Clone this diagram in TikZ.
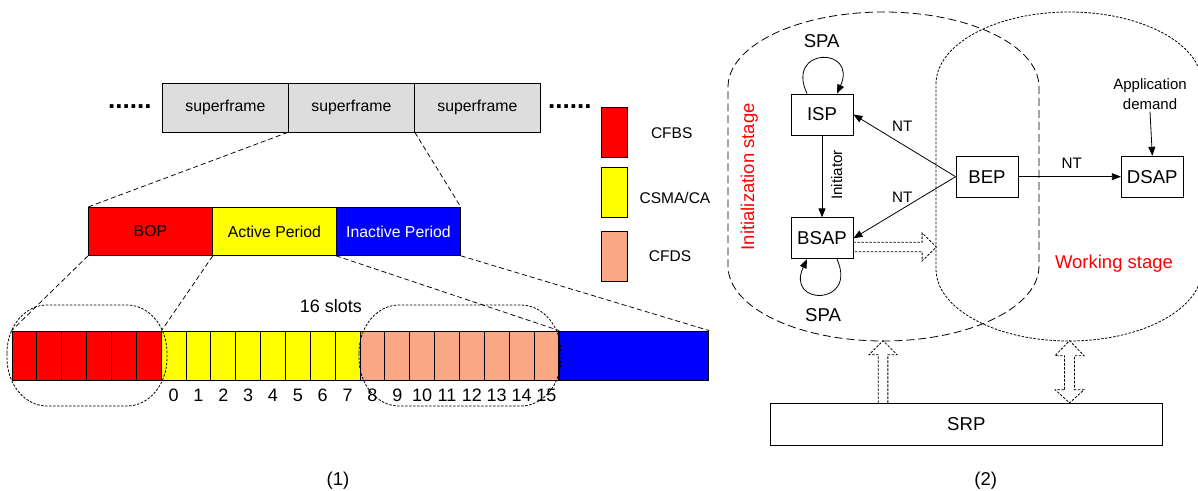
\documentclass[tikz,border=0pt]{standalone}
\usepackage{fontspec}
\setmainfont{Liberation Sans}
\usetikzlibrary{arrows.meta,calc}
\definecolor{sfgray}{RGB}{221,221,221}
\definecolor{salmonc}{RGB}{248,168,132}
\definecolor{pblue}{RGB}{0,0,255}
\definecolor{pred}{RGB}{255,0,0}
\definecolor{pyellow}{RGB}{255,255,0}
\newcommand{\myfs}[1]{\fontsize{#1}{#1}\selectfont}
% rounded box with elliptical corners: style, x1, y1(top), x2, y2(bottom), rx, ry
\newcommand{\roundbox}[7]{%
 \draw[#1] ({#2},{#3+#7}) .. controls ({#2},{#3+0.4477*#7}) and ({#2+0.4477*#6},{#3}) .. ({#2+#6},{#3})
 -- ({#4-#6},{#3}) .. controls ({#4-0.4477*#6},{#3}) and ({#4},{#3+0.4477*#7}) .. ({#4},{#3+#7})
 -- ({#4},{#5-#7}) .. controls ({#4},{#5-0.4477*#7}) and ({#4-0.4477*#6},{#5}) .. ({#4-#6},{#5})
 -- ({#2+#6},{#5}) .. controls ({#2+0.4477*#6},{#5}) and ({#2},{#5-0.4477*#7}) .. ({#2},{#5-#7}) -- cycle;}
\tikzset{
 box/.style={draw=black, line width=0.8pt, inner sep=0pt},
 sf/.style={box, fill=sfgray, minimum width=126pt, minimum height=48.5pt, anchor=north west, font=\myfs{15.8}},
 per/.style={box, minimum width=124pt, minimum height=48pt, anchor=north west, font=\myfs{15.8}},
 slot/.style={box, minimum width=24.857pt, minimum height=49pt},
 leg/.style={box, minimum width=26pt, minimum height=50pt, anchor=north west},
 lab/.style={inner sep=0pt, font=\myfs{15.5}},
 num/.style={inner sep=0pt, font=\myfs{18}},
 big/.style={inner sep=0pt, font=\myfs{18.6}},
 small/.style={inner sep=0pt, font=\myfs{15.2}},
 proc/.style={box, minimum width=62pt, minimum height=41pt, font=\myfs{18.6}},
 zoomline/.style={line width=0.75pt, dash pattern=on 5pt off 3pt},
 fine/.style={line width=0.8pt, dash pattern=on 2.5pt off 1.5pt},
 stagedash/.style={line width=0.8pt, dash pattern=on 8pt off 4pt},
 arr/.style={line width=0.8pt, -{Triangle[length=9pt,width=7pt]}},
 hollow/.style={line width=0.8pt, dash pattern=on 2.5pt off 1.5pt},
 stage/.style={inner sep=0pt, text=pred, font=\myfs{18.5}},
 dots/.style={inner sep=0pt, anchor=base west, font=\myfs{26}\bfseries}
}
\begin{document}
\begin{tikzpicture}[x=1pt, y=-1pt]
\useasboundingbox (0,0) rectangle (1198,490);

% ---------------- panel (1) ----------------
\node[dots] (dl) at (108,108.5) {......};
\node[sf] (sf1) at (162,83) {superframe};
\node[sf] (sf2) at (288,83) {superframe};
\node[sf] (sf3) at (414,83) {superframe};
\node[dots] (dr) at (548,108.5) {......};

\node[per, fill=pred] (bop) at (88,207) {BOP};
\node[per, fill=pyellow] (act) at (212,207) {Active Period};
\node[per, fill=pblue, text=white] (inact) at (336,207) {Inactive Period};

\foreach \i in {0,...,5}
  \node[slot, fill=pred] (s\i) at ({12+(\i+0.5)*24.857},355.5) {};
\foreach \i in {6,...,13}
  \node[slot, fill=pyellow] (s\i) at ({12+(\i+0.5)*24.857},355.5) {};
\foreach \i in {14,...,21}
  \node[slot, fill=salmonc] (s\i) at ({12+(\i+0.5)*24.857},355.5) {};
\node[slot, fill=pblue, minimum width=149.14pt, anchor=west] (sb) at (s21.east) {};

\foreach \i in {0,...,15}
  \node[num] (n\i) at ({12+(\i+6.5)*24.857},395) {\i};
\node[num] (slots) at (331,306) {16 slots};

\draw[zoomline] (sf2.south west) -- (bop.north west);
\draw[zoomline] (sf2.south east) -- (inact.north east);
\draw[zoomline] (bop.south west) -- (s0.north west);
\draw[zoomline] (bop.south east) -- (s5.north east);
\draw[zoomline] (inact.south west) -- (s21.north east);
\draw[zoomline] (inact.south east) -- (sb.north east);

\roundbox{fine}{7}{305}{167}{406}{40}{48}
\roundbox{fine}{359}{305}{561}{406}{40}{48}

\node[leg, fill=pred] (lg1) at (601,107) {};
\node[leg, fill=pyellow] (lg2) at (601,167) {};
\node[leg, fill=salmonc] (lg3) at (601,231) {};
\node[lab] (lt1) at (671.7,133) {CFBS};
\node[lab] (lt2) at (675,198) {CSMA/CA};
\node[lab] (lt3) at (670,256) {CFDS};

\node[big] (cap1) at (338,481) {(1)};

% ---------------- panel (2) ----------------
\roundbox{stagedash}{728}{12}{1039}{341}{155.5}{75}
\roundbox{fine}{936}{12}{1202}{341}{133}{72}

\node[stage, rotate=90] (init) at (749.3,176.7) {Initialization stage};
\node[stage] (work) at (1114,263.3) {Working stage};

\node[proc] (isp) at (822,114.5) {ISP};
\node[proc] (bsap) at (822,238.3) {BSAP};
\node[proc] (bep) at (987,176.7) {BEP};
\node[proc] (dsap) at (1152.3,176.7) {DSAP};
\node[box, minimum width=392.7pt, minimum height=41.7pt, font=\myfs{18.6}] (srp) at (966.3,424.2) {SRP};

\node[big] (spa1) at (821.7,40.7) {SPA};
\node[big] (spa2) at (823,315) {SPA};
\draw[arr] ([xshift=-15pt]isp.north) .. controls +(-22,-47) and +(21,-47) .. ([xshift=15pt]isp.north);
\draw[arr] ([xshift=15pt]bsap.south) .. controls +(21,47) and +(-22,47) .. ([xshift=-15pt]bsap.south);

\draw[arr] (isp) -- (bsap);
\node[small, rotate=90] (ini) at (836.7,175) {Initiator};

\draw[arr] (bep.west) -- (isp.east);
\draw[arr] (bep.west) -- (bsap.east);
\draw[arr] (bep) -- (dsap);
\node[small] (nt1) at (902.3,126.7) {NT};
\node[small] (nt2) at (902.3,197.7) {NT};
\node[small] (nt3) at (1071.7,163.3) {NT};

\node[small, align=center, font=\fontsize{15}{20}\selectfont, inner sep=2pt] (app) at (1150,94) {Application\\demand};
\draw[arr] (app.south) -- (dsap.north);

% hollow arrows
\coordinate (h0) at ($(bsap.east)+(0,8.7)$);
\draw[hollow] ($(h0)+(0,-4.7)$) -- ++(68.7,0) -- ++(0,-9.3) -- ++(14.3,14) -- ++(-14.3,14) -- ++(0,-9.3) -- ++(-68.7,0);
\coordinate (u0) at ($(srp.north west)+(113.5,0)$);
\draw[hollow] ($(u0)+(-4.8,0)$) -- ++(0,-48.3) -- ++(-9.2,0) -- ++(14,-14) -- ++(14,14) -- ++(-9.2,0) -- ++(0,48.3);
\coordinate (d0) at ($(srp.north west)+(300,0)$);
\draw[hollow] ($(d0)+(-5,-13.3)$) -- ++(0,-34) -- ++(-9.5,0) -- ++(14.5,-15) -- ++(14.5,15) -- ++(-9.5,0) -- ++(0,34) -- ++(9.5,0) -- ++(-14.5,13.3) -- ++(-14.5,-13.3) -- cycle;

\node[big] (cap2) at (985.7,481) {(2)};
\end{tikzpicture}
\end{document}
